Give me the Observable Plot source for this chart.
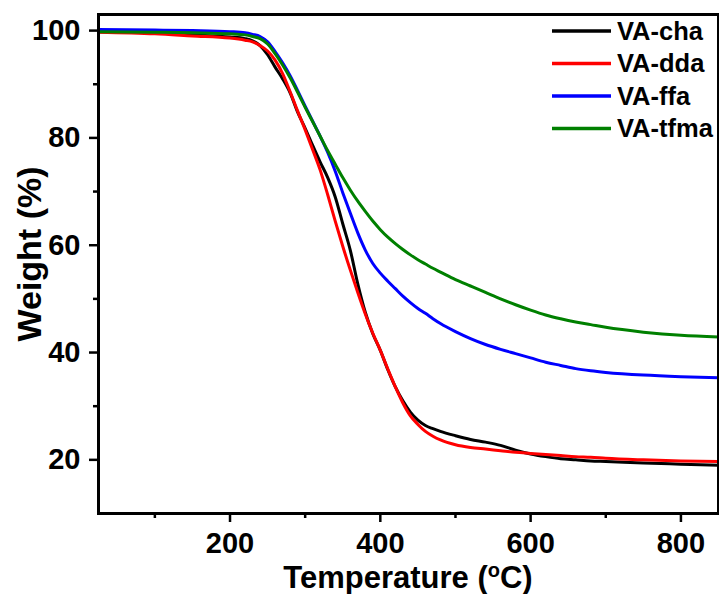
<!DOCTYPE html>
<html>
<head>
<meta charset="utf-8">
<script src="https://cdn.jsdelivr.net/npm/d3@7"></script>
<script src="https://cdn.jsdelivr.net/npm/@observablehq/plot@0.6"></script>
<style>
  html, body { margin: 0; padding: 0; background: #fff; }
  #chart { width: 719px; height: 594px; }
</style>
</head>
<body>
<div id="chart"></div>
<script>
// Temperature grid (°C)
const temps = [25,100,150,200,220,230,240,250,260,270,280,290,300,310,320,330,340,350,360,370,380,390,400,410,420,430,440,450,460,470,480,500,520,540,560,580,600,620,640,660,680,700,750,800,850];

// Weight (%) per series
const vaCha = [99.8,99.6,99.2,98.8,98.5,98.1,97.2,95.5,93.2,91.0,88.4,84.8,81.8,78.6,75.5,72.6,69.0,64.0,59.1,52.8,47.5,43.5,40.4,36.8,33.6,31.0,28.9,27.4,26.4,25.8,25.3,24.5,23.8,23.3,22.7,21.8,21.1,20.6,20.2,20.0,19.8,19.7,19.4,19.2,19.0];
const vaDda = [99.7,99.4,99.0,98.6,98.2,97.9,97.2,96.2,94.5,92.0,88.6,85.0,81.5,77.8,74.0,69.4,64.5,59.8,55.4,51.2,47.2,43.6,40.4,36.9,33.6,30.6,28.2,26.6,25.3,24.4,23.7,22.8,22.3,22.0,21.7,21.4,21.2,21.0,20.8,20.6,20.5,20.3,20.0,19.8,19.7];
const vaFfa = [100.2,100.1,100.0,99.8,99.6,99.3,98.9,97.9,96.1,94.0,91.6,88.8,85.9,83.1,80.3,77.3,73.8,69.8,66.0,62.3,59.1,56.6,54.8,53.3,51.9,50.5,49.3,48.2,47.3,46.3,45.4,43.9,42.6,41.5,40.6,39.8,39.0,38.2,37.6,37.0,36.6,36.3,35.8,35.5,35.3];
const vaTfma = [99.8,99.7,99.6,99.4,99.2,98.9,98.5,97.5,95.7,93.6,91.2,88.5,85.7,83.0,80.3,77.6,75.1,72.6,70.3,68.2,66.3,64.5,62.9,61.5,60.3,59.2,58.2,57.3,56.5,55.7,55.0,53.6,52.4,51.2,50.0,48.9,47.9,47.0,46.3,45.7,45.2,44.7,43.8,43.2,42.9];

const seriesNames = ["VA-cha", "VA-dda", "VA-ffa", "VA-tfma"];
const seriesValues = [vaCha, vaDda, vaFfa, vaTfma];
const seriesColors = ["#000000", "#ff0000", "#0000ff", "#008000"];

const xMajorTicks = [200, 400, 600, 800];
const xMinorTicks = [100, 300, 500, 700];
const yMajorTicks = [20, 40, 60, 80, 100];
const yMinorTicks = [30, 50, 70, 90];

const rows = [];
seriesNames.forEach((name, i) => {
  temps.forEach((t, j) => rows.push({series: name, T: t, W: seriesValues[i][j]}));
});

const FONT = "Arial, 'Liberation Sans', sans-serif";

const plot = Plot.plot({
  width: 719,
  height: 594,
  marginLeft: 98,
  marginRight: 1,
  marginTop: 14,
  marginBottom: 81,
  style: {fontFamily: FONT, background: "#fff", color: "#000", overflow: "visible"},
  x: {domain: [25, 850], label: null},
  y: {domain: [10, 103], label: null},
  color: {domain: seriesNames, range: seriesColors},
  marks: [
    ...seriesNames.map((name, i) => Plot.line(rows.filter(d => d.series === name), {
      x: "T", y: "W", stroke: seriesColors[i], strokeWidth: 3, curve: "monotone-x"
    })),
    Plot.axisX({ticks: xMajorTicks, tickSize: 9, tickPadding: 10, tickFormat: d => String(d), fontSize: 29, fontWeight: "bold", strokeWidth: 2.5, label: null}),
    Plot.axisX({ticks: xMinorTicks, tickSize: 5, tickFormat: () => "", strokeWidth: 2.5, label: null}),
    Plot.axisY({ticks: yMajorTicks, tickSize: 9, tickPadding: 9, tickFormat: d => String(d), fontSize: 29, fontWeight: "bold", strokeWidth: 2.5, label: null}),
    Plot.axisY({ticks: yMinorTicks, tickSize: 5, tickFormat: () => "", strokeWidth: 2.5, label: null}),
    Plot.frame({stroke: "#000", strokeWidth: 3})
  ]
});

document.getElementById("chart").appendChild(plot);

const svg = d3.select(plot);

// X axis title with superscript o
const xt = svg.append("text")
  .attr("x", 408).attr("y", 588)
  .attr("text-anchor", "middle")
  .attr("font-family", FONT).attr("font-weight", "bold").attr("font-size", 31)
  .attr("fill", "#000");
xt.append("tspan").text("Temperature (");
xt.append("tspan").attr("font-size", 20).attr("dy", -11).text("o");
xt.append("tspan").attr("dy", 11).text("C)");

// Y axis title
svg.append("text")
  .attr("transform", "translate(41,254) rotate(-90)")
  .attr("text-anchor", "middle")
  .attr("font-family", FONT).attr("font-weight", "bold").attr("font-size", 34)
  .attr("fill", "#000")
  .text("Weight (%)");

// Legend
const legendTop = 31, legendStep = 32.5;
seriesNames.forEach((name, i) => {
  const y = legendTop + i * legendStep;
  svg.append("line")
    .attr("x1", 552).attr("x2", 611).attr("y1", y).attr("y2", y)
    .attr("stroke", seriesColors[i]).attr("stroke-width", 3.5);
  svg.append("text")
    .attr("x", 617).attr("y", y).attr("dy", "0.35em")
    .attr("text-anchor", "start")
    .attr("font-family", FONT).attr("font-weight", "bold").attr("font-size", 25.5)
    .attr("fill", "#000")
    .text(name);
});
</script>
</body>
</html>
